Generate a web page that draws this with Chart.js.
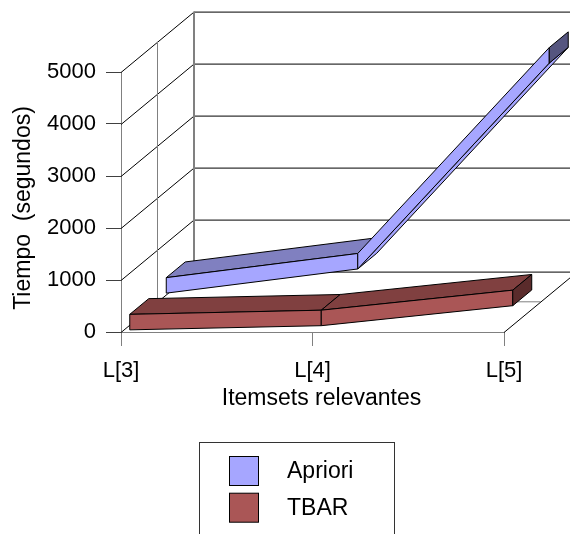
<!DOCTYPE html>
<html lang="es">
<head>
<meta charset="UTF-8">
<title>Tiempo por itemsets relevantes</title>
<script src="https://cdn.jsdelivr.net/npm/chart.js"></script>
<style>
    html, body { margin: 0; padding: 0; background: #fff; }
    #wrap { width: 570px; height: 534px; position: relative; }
</style>
</head>
<body>
<div id="wrap"><canvas id="chart"></canvas></div>
<script>
    // data
    const categories = ['L[3]', 'L[4]', 'L[5]'];
    const aprioriTimes = [325, 790, 4750];
    const tbarTimes = [200, 280, 665];
    const yTicks = [0, 1000, 2000, 3000, 4000, 5000];
    const seriesNames = ['Apriori', 'TBAR'];

    const FONT = "'Liberation Sans', Arial, sans-serif";
    const DEPTH = { x: 73, y: -60.4 };   // depth of the 3d box, px
    const THICK = 15.5;                  // ribbon height, px
    const shades = [
        { front: '#a6a6ff', top: '#8080c0', cap: '#55557f', row: 1 },
        { front: '#aa5656', top: '#804040', cap: '#5a2b2b', row: 0 }
    ];

    Chart.defaults.color = '#000';
    Chart.defaults.font.family = FONT;

    function line(ctx, x1, y1, x2, y2, color, w) {
        ctx.beginPath();
        ctx.strokeStyle = color;
        ctx.lineWidth = w || 1;
        ctx.moveTo(x1, y1);
        ctx.lineTo(x2, y2);
        ctx.stroke();
    }

    function quad(ctx, pts, fill) {
        ctx.beginPath();
        ctx.moveTo(pts[0][0], pts[0][1]);
        for (let i = 1; i < pts.length; i++) ctx.lineTo(pts[i][0], pts[i][1]);
        ctx.closePath();
        ctx.fillStyle = fill;
        ctx.fill();
        ctx.strokeStyle = '#000';
        ctx.lineWidth = 1;
        ctx.stroke();
    }

    // walls and floor of the 3d box
    const framePlugin = {
        id: 'frame',
        beforeDatasetsDraw(chart) {
            const ctx = chart.ctx;
            const ys = chart.scales.y, xs = chart.scales.x;
            const l = xs.left, r = xs.right, b = ys.bottom, t = ys.top;
            ctx.save();
            yTicks.forEach(v => {
                const y = Math.round(ys.getPixelForValue(v)) + 0.5;
                line(ctx, l + DEPTH.x, y + DEPTH.y, r + DEPTH.x, y + DEPTH.y, '#000');
                line(ctx, l, y, l + DEPTH.x, y + DEPTH.y, '#000');
            });
            line(ctx, l + DEPTH.x, t + DEPTH.y, l + DEPTH.x, b + DEPTH.y, '#808080', 2);
            line(ctx, l + DEPTH.x / 2, t + DEPTH.y / 2, l + DEPTH.x / 2, b + DEPTH.y / 2, '#808080');
            line(ctx, l + DEPTH.x / 2, b + DEPTH.y / 2, r + DEPTH.x / 2, b + DEPTH.y / 2, '#808080');
            line(ctx, r, b + 0.5, r + DEPTH.x, b + 0.5 + DEPTH.y, '#000');
            ctx.restore();
        },
        afterDatasetsDraw(chart) {
            const ctx = chart.ctx;
            ctx.save();
            ctx.lineJoin = 'round';
            chart.data.datasets.forEach((ds, k) => {
                const pts = chart.getDatasetMeta(k).data.map(p => ({ x: p.x, y: p.y }));
                ribbon(ctx, pts, shades[k]);
            });
            ctx.restore();
        },
        afterDraw(chart) {
            const ctx = chart.ctx;
            const xs = chart.scales.x, ys = chart.scales.y;
            ctx.save();
            ctx.fillStyle = '#000';
            ctx.font = '23px ' + FONT;
            ctx.textAlign = 'center';
            ctx.textBaseline = 'middle';
            ctx.fillText('Itemsets relevantes', (xs.left + xs.right) / 2 + 9, 399);
            ctx.save();
            ctx.translate(23.5, (ys.top + ys.bottom) / 2 + 6);
            ctx.rotate(-Math.PI / 2);
            ctx.fillText('Tiempo  (segundos)', 0, 0);
            ctx.restore();

            // legend
            ctx.strokeStyle = '#333';
            ctx.lineWidth = 1;
            ctx.strokeRect(199.5, 442.5, 195, 120);
            ctx.textAlign = 'left';
            chart.data.datasets.forEach((ds, k) => {
                const top = 456.5 + k * 36.7;
                ctx.fillStyle = ds.backgroundColor;
                ctx.fillRect(229.5, top, 29, 29);
                ctx.strokeStyle = '#000';
                ctx.strokeRect(229.5, top, 29, 29);
                ctx.fillStyle = '#000';
                ctx.fillText(ds.label, 287, top + 15);
            });
            ctx.restore();
        }
    };

    function ribbon(ctx, pts, c) {
        const ff = (c.row + 0.24) / 2, fb = (c.row + 0.76) / 2;
        const F = pts.map(p => [p.x + DEPTH.x * ff, p.y + DEPTH.y * ff]);
        const B = pts.map(p => [p.x + DEPTH.x * fb, p.y + DEPTH.y * fb]);
        const ox = DEPTH.x * (fb - ff), oy = DEPTH.y * (fb - ff);
        for (let i = 0; i < F.length - 1; i++) {
            const dx = F[i + 1][0] - F[i][0], dy = F[i + 1][1] - F[i][1];
            // steep rise: top face is hidden, underside shows instead
            const under = (dx * oy - dy * ox) * dx > 0;
            const h = under ? THICK : 0;
            quad(ctx, [[F[i][0], F[i][1] + h], [F[i + 1][0], F[i + 1][1] + h],
                       [B[i + 1][0], B[i + 1][1] + h], [B[i][0], B[i][1] + h]], under ? c.front : c.top);
            quad(ctx, [F[i], F[i + 1], [F[i + 1][0], F[i + 1][1] + THICK], [F[i][0], F[i][1] + THICK]], c.front);
        }
        const n = F.length - 1;
        quad(ctx, [F[n], B[n], [B[n][0], B[n][1] + THICK], [F[n][0], F[n][1] + THICK]], c.cap);
    }

    new Chart(document.getElementById('chart'), {
        type: 'line',
        data: {
            labels: categories,
            datasets: [
                { label: seriesNames[0], data: aprioriTimes, backgroundColor: shades[0].front, showLine: false, pointRadius: 0 },
                { label: seriesNames[1], data: tbarTimes, backgroundColor: shades[1].front, showLine: false, pointRadius: 0 }
            ]
        },
        options: {
            responsive: true,
            maintainAspectRatio: false,
            animation: false,
            layout: { padding: { left: 0, top: 72, right: 66, bottom: 0 } },
            plugins: {
                legend: { display: false },
                tooltip: { enabled: false }
            },
            scales: {
                x: {
                    type: 'category',
                    offset: false,
                    afterFit: s => { s.height = 202; },
                    grid: { drawOnChartArea: false, tickLength: 14, color: '#808080' },
                    border: { color: '#808080' },
                    ticks: { font: { size: 22 }, padding: 12, maxRotation: 0, autoSkip: false }
                },
                y: {
                    min: 0,
                    max: 5000,
                    afterFit: s => { s.width = 121; },
                    afterBuildTicks: s => { s.ticks = yTicks.map(v => ({ value: v })); },
                    grid: { drawOnChartArea: false, tickLength: 15, color: '#404040' },
                    border: { color: '#808080' },
                    ticks: { font: { size: 22 }, padding: 10, callback: v => String(v) }
                }
            }
        },
        plugins: [framePlugin]
    });
</script>
</body>
</html>
